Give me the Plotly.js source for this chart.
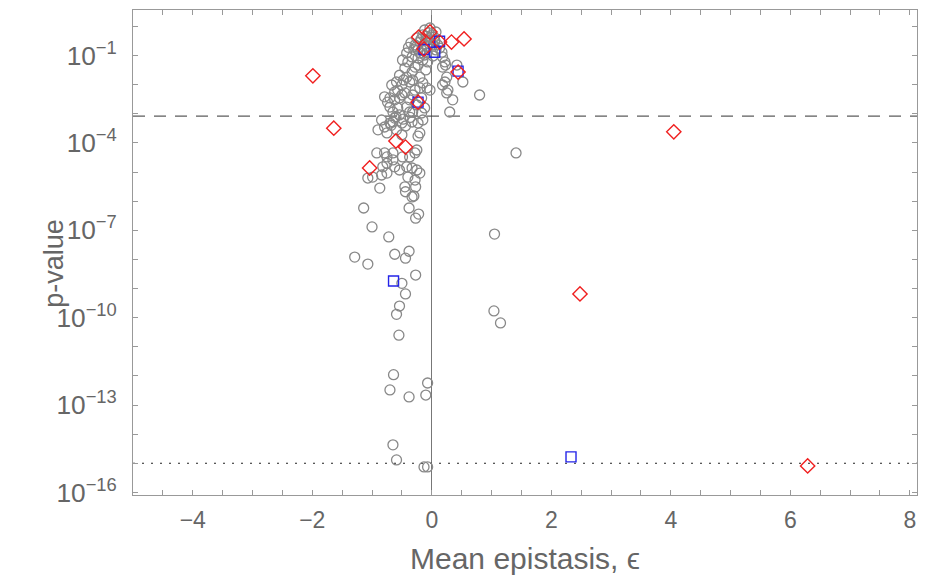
<!DOCTYPE html>
<html><head><meta charset="utf-8">
<script src="https://cdn.plot.ly/plotly-3.0.1.min.js"></script>
<style>html,body{margin:0;padding:0;background:#fff}#chart{width:925px;height:580px}</style>
</head><body><div id="chart"></div>
<script>
// Gray circles: all pairs
const grayX = [
 -0.12,-0.03,0.00,-0.07,0.07,-0.20,-0.28,0.10,0.02,-0.07,
 -0.17,-0.23,-0.12,0.02,-0.35,-0.42,-0.49,-0.33,-0.20,-0.08,
 -0.15,-0.45,-0.54,-0.28,-0.42,-0.59,-0.50,-0.37,-0.20,-0.15,
 -0.08,-0.62,-0.45,-0.28,-0.70,-0.79,-0.54,-0.37,-0.17,-0.70,
 -0.57,-0.42,-0.65,-0.32,-0.17,-0.84,-0.70,-0.23,-0.15,-0.59,
 -0.79,-0.74,-0.33,-0.23,-0.57,-0.47,-0.25,-0.62,-0.10,-0.40,
 -0.32,-0.54,-0.03,-0.07,0.18,0.22,0.23,0.25,0.22,0.27,
 0.35,0.30,0.52,0.80,0.42,0.17,0.18,0.25,0.18,0.13,
 0.07,-0.90,-0.65,-0.50,-0.33,-0.20,-0.23,-0.75,-0.50,-0.92,
 -0.79,-0.75,-0.65,-0.65,-0.49,-0.37,-0.25,-0.28,-1.07,-0.99,
 -0.84,-0.75,-0.62,-0.54,-0.42,-0.33,-0.25,-0.20,-0.40,-0.28,
 -0.75,-0.87,-0.82,-0.45,-0.27,-0.44,-0.33,-0.30,-1.14,-0.38,
 -0.22,-0.27,-1.00,-0.72,-1.29,-1.07,-0.62,-0.38,-0.44,-0.27,
 -0.50,-0.44,-0.54,-0.59,-0.55,1.04,1.15,-0.64,-0.07,-0.70,
 -0.10,-0.38,-0.65,-0.59,-0.13,-0.07,1.41,1.05,-0.23,-0.32,
 -0.50,-0.20,-0.37,-0.62,-0.12,-0.67,-0.10,0.05,-0.15,-0.25,
 -0.05,0.04,-0.09,-0.18,-0.02,0.05,-0.30,-0.26,-0.12,-0.39,
 -0.60,-0.48,-0.36,-0.68,-0.44
];
const grayP = [
 0.75,0.88,0.51,0.34,0.64,0.29,0.23,0.23,0.23,0.196,
 0.155,0.155,0.104,0.096,0.27,0.122,0.070,0.089,0.122,0.122,
 0.070,0.037,0.021,0.040,0.018,0.0123,0.0097,0.0123,0.018,0.0114,
 0.0077,0.0056,0.0052,0.0065,0.0035,0.0038,0.0035,0.0030,0.0035,0.0017,
 0.00158,0.0017,0.00115,0.00115,0.00106,6.1e-4,4.8e-4,4.8e-4,6.1e-4,2.8e-4,
 3.5e-4,0.0025,0.027,0.047,0.0065,0.0144,0.0020,0.0030,0.032,0.060,
 0.0044,9.1e-4,0.0065,0.060,0.089,0.060,0.047,0.018,0.0123,0.0065,
 0.0030,0.00115,0.0123,0.0044,0.047,0.13,0.040,0.0052,0.0097,0.18,
 0.155,2.8e-4,5.2e-4,4.8e-4,5.2e-4,2.2e-4,1.7e-4,2.2e-4,1.9e-4,4.5e-5,
 4.5e-5,3.3e-5,4.5e-5,2.6e-5,3.3e-5,3.3e-5,5.7e-5,4.5e-5,6.2e-6,6.7e-6,
 7.9e-6,2.0e-5,1.5e-5,1.17e-5,1.5e-5,1.37e-5,1.17e-5,9.2e-6,6.7e-6,5.3e-6,
 9.2e-6,2.8e-6,1.5e-5,3.1e-6,3.1e-6,2.1e-6,1.39e-6,1.5e-6,5.8e-7,5.8e-7,
 3.6e-7,2.6e-7,1.3e-7,5.9e-8,1.2e-8,6.9e-9,1.5e-8,1.9e-8,1.1e-8,2.9e-9,
 1.5e-9,6.5e-10,2.5e-10,1.3e-10,2.5e-11,1.7e-10,6.6e-11,1.1e-12,5.7e-13,3.3e-13,
 2.2e-13,1.9e-13,4.3e-15,1.3e-15,7.5e-16,7.5e-16,4.5e-5,7.4e-8,0.082,0.0144,
 0.0044,0.0077,0.00115,7.1e-4,0.00158,0.0097,0.34,0.34,0.51,0.40,
 0.60,0.42,0.45,0.36,0.28,0.30,0.16,0.20,0.24,0.19,
 8.0e-4,6.5e-4,7.5e-4,4.0e-4,3.8e-4
];
// Red diamonds
const redX = [-1.99,-1.64,-1.04,-0.60,-0.44,-0.23,-0.22,-0.03,-0.13,0.13,0.33,0.54,0.44,4.05,2.48,6.29];
const redP = [0.020,3.2e-4,1.37e-5,1.16e-4,7.2e-5,2.5e-3,0.43,0.64,0.167,0.29,0.29,0.37,0.027,2.4e-4,6.5e-10,8.1e-16];
// Blue squares
const blueX = [-0.64,2.33,-0.23,-0.13,0.05,0.13,0.44];
const blueP = [1.8e-9,1.65e-15,2.5e-3,0.16,0.13,0.31,0.029];
// Reference lines
const dashedP = 8.3e-4;
const dottedP = 1e-15;
const xRange = [-5, 8.12];
const yRangeLog = [-16.09, 0.562];
const xTitle = 'Mean epistasis, ϵ';
const yTitle = 'p-value';

const FONT = 'Liberation Sans, Arial, sans-serif';
const GRAY_TXT = '#666';
const FRAME = '#999';

const traces = [
  {x: xRange, y: [dashedP, dashedP], mode:'lines', line:{color:'#333', width:1, dash:'12px,9px'}, hoverinfo:'skip'},
  {x: xRange, y: [dottedP, dottedP], mode:'lines', line:{color:'#222', width:1, dash:'2px,7px'}, hoverinfo:'skip'},
  {x: grayX, y: grayP, mode:'markers', type:'scatter',
   marker:{symbol:'circle-open', size:10, color:'#888', line:{width:1.3, color:'#888'}}},
  {x: blueX, y: blueP, mode:'markers', type:'scatter',
   marker:{symbol:'square-open', size:10, color:'#2424e8', line:{width:1.4, color:'#2424e8'}}},
  {x: redX, y: redP, mode:'markers', type:'scatter',
   marker:{symbol:'diamond-open', size:11, color:'#f02020', line:{width:1.4, color:'#f02020'}}}
];

const layout = {
  width: 925, height: 580,
  margin: {l:133, r:8, t:10, b:85, pad:0},
  paper_bgcolor:'#fff', plot_bgcolor:'#fff',
  showlegend:false,
  font:{family:FONT, color:GRAY_TXT},
  xaxis:{
    range:xRange, tick0:0, dtick:2, ticks:'inside', ticklen:5, tickwidth:1, tickcolor:FRAME,
    showline:true, linecolor:FRAME, linewidth:1, mirror:'ticks',
    showgrid:false, zeroline:true, zerolinecolor:'#777', zerolinewidth:1,
    tickfont:{size:23, color:GRAY_TXT, family:FONT}, ticklabelstandoff:4,
    minor:{dtick:0.5, tick0:0, ticks:'inside', ticklen:5, tickwidth:1, tickcolor:FRAME, showgrid:false}
  },
  yaxis:{
    type:'log', range:yRangeLog, tick0:-1, dtick:3, exponentformat:'power',
    ticks:'inside', ticklen:5, tickwidth:1, tickcolor:FRAME,
    showline:true, linecolor:FRAME, linewidth:1, mirror:'ticks',
    showgrid:false, zeroline:false,
    tickfont:{size:21, color:GRAY_TXT, family:FONT}, ticklabelstandoff:11,
    minor:{dtick:1, tick0:0, ticks:'inside', ticklen:5, tickwidth:1, tickcolor:FRAME, showgrid:false}
  },
  annotations:[
    {text:xTitle, xref:'paper', yref:'paper', x:0.5, y:-0.13, xanchor:'center', yanchor:'middle',
     showarrow:false, font:{size:30, color:GRAY_TXT, family:FONT}},
    {text:yTitle, xref:'paper', yref:'paper', x:-0.1, y:0.478, xanchor:'center', yanchor:'middle',
     textangle:-90, showarrow:false, font:{size:27, color:GRAY_TXT, family:FONT}}
  ]
};

Plotly.newPlot('chart', traces, layout, {staticPlot:true, displayModeBar:false});
</script>
</body></html>
